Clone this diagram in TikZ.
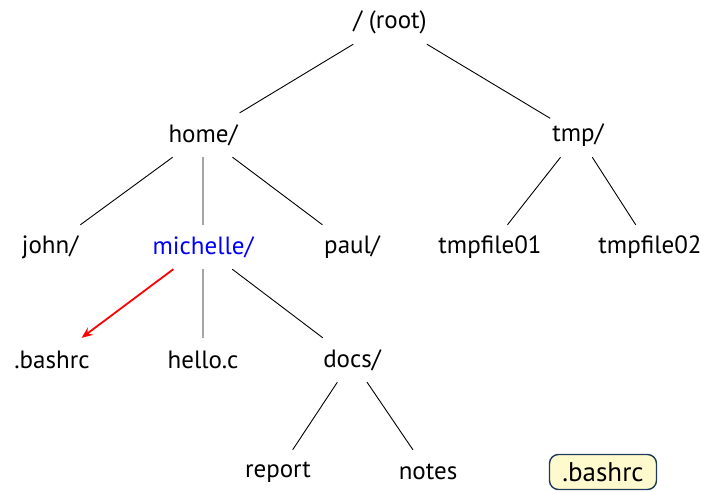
\documentclass[tikz,border=0pt]{standalone}
\usepackage{fontspec}
\setmainfont{PT Sans}
\usetikzlibrary{arrows.meta}
\definecolor{keyfill}{RGB}{255,250,205}
\definecolor{keyline}{RGB}{30,60,90}

\begin{document}
\begin{tikzpicture}[x=1pt,y=-1pt,
  every node/.style={font=\fontsize{25}{29}\selectfont,minimum height=44pt,inner sep=2pt},
  keybox/.style={draw=keyline,fill=keyfill,line width=1.4pt,rounded corners=9pt,
    font=\fontsize{27}{31}\selectfont,minimum height=35pt,minimum width=107pt,inner sep=2pt}]
  \useasboundingbox (0,0) rectangle (716,493);
  \path (390,22) node (root) {/ (root)}
  (203,135) node (home) {home/} (578,135) node (tmp) {tmp/}
  (50,247) node (john) {john/} (203,247) node[text=blue] (michelle) {michelle/}
  (352,247) node (paul) {paul/} (490,247) node (tf1) {tmpfile01} (650,247) node (tf2) {tmpfile02}
  (52,360) node (bashrc) {.bashrc} (203,360) node (hello) {hello.c} (352,360) node (docs) {docs/}
  (278,472) node (report) {report} (428,472) node (notes) {notes};
  \begin{scope}[line width=0.9pt]
  \draw (root) -- (home) (root) -- (tmp);
  \draw (home) -- (john) (home) -- (michelle) (home) -- (paul);
  \draw (tmp) -- (tf1) (tmp) -- (tf2);
  \draw (michelle) -- (hello) (michelle) -- (docs);
  \draw (docs) -- (report) (docs) -- (notes);
  \end{scope}
  \draw[red,line width=1.8pt,-{Stealth[length=11pt,width=9pt]}] (michelle) -- (bashrc);
  \node[keybox] (key) at (603,472) {.bashrc};
\end{tikzpicture}
\end{document}
